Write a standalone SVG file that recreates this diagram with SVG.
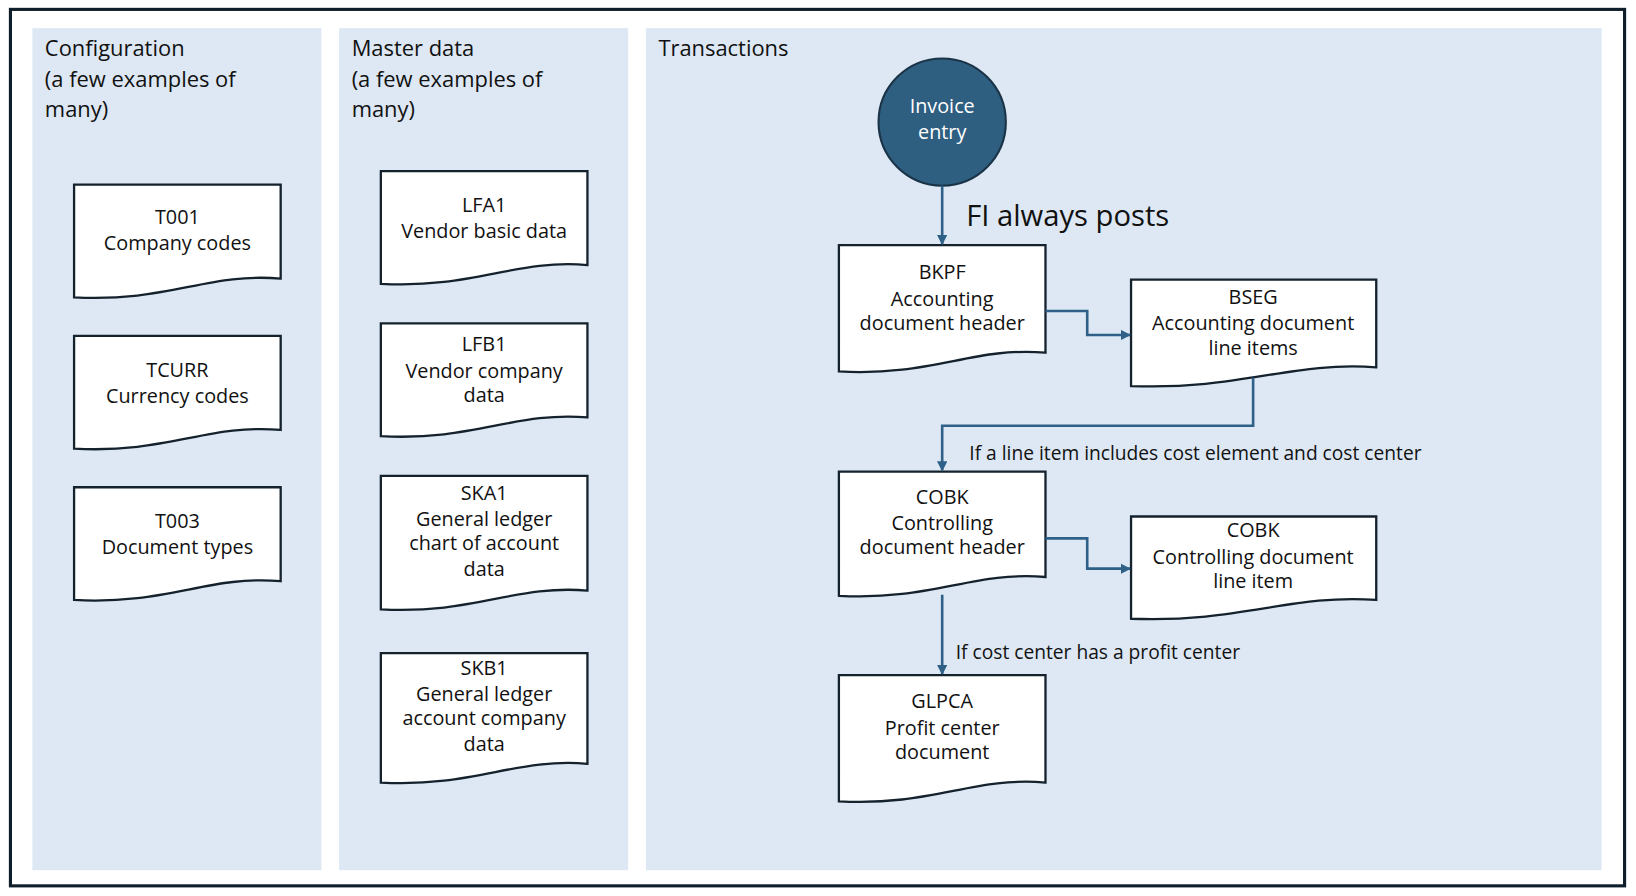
<svg xmlns="http://www.w3.org/2000/svg" width="1636" height="896" viewBox="0 0 1636 896">
<defs>
<style>
.panel{fill:#dde8f4}
.doc{fill:#fff;stroke:#14222d;stroke-width:2.2}
.t{font-family:"Open Sans","Noto Sans",sans-serif;font-size:19px;fill:#111;text-anchor:middle}
.h{font-family:"Open Sans","Noto Sans",sans-serif;font-size:21px;fill:#111}
.lbl{font-family:"Open Sans","Noto Sans",sans-serif;font-size:18.4px;fill:#111}
.c{fill:none;stroke:#2e6088;stroke-width:2.5}
</style>
<marker id="ar" viewBox="0 0 10 10" refX="9" refY="5" markerWidth="4" markerHeight="4" orient="auto-start-reverse"><path d="M0,0L10,5L0,10z" fill="#2e6088"/></marker>
</defs>
<rect width="1636" height="896" fill="#fff"/>
<g transform="scale(1.0434)">
<rect x="10" y="9" width="1547" height="840" fill="none" stroke="#0e1f2b" stroke-width="3"/>
<g id="panel-config"><rect class="panel" x="31" y="27" width="277" height="807"/>
<text class="h" x="43" y="54">Configuration</text><text class="h" x="43" y="83">(a few examples of</text><text class="h" x="43" y="112">many)</text></g>
<g id="panel-master"><rect class="panel" x="325" y="27" width="277" height="807"/>
<text class="h" x="337" y="54">Master data</text><text class="h" x="337" y="83">(a few examples of</text><text class="h" x="337" y="112">many)</text></g>
<g id="panel-trans"><rect class="panel" x="619" y="27" width="916" height="807"/>
<text class="h" x="631" y="54">Transactions</text></g>

<g id="t001"><path class="doc" d="M71,177H269V267C200,261 160,290 71,285Z"/><text class="t" x="170" y="215">T001</text><text class="t" x="170" y="240">Company codes</text></g>
<g id="tcurr"><path class="doc" d="M71,322H269V412C200,406 160,435 71,430Z"/><text class="t" x="170" y="361">TCURR</text><text class="t" x="170" y="386">Currency codes</text></g>
<g id="t003"><path class="doc" d="M71,467H269V557C200,551 160,580 71,575Z"/><text class="t" x="170" y="506">T003</text><text class="t" x="170" y="531">Document types</text></g>

<g id="lfa1"><path class="doc" d="M365,164H563V254C494,248 454,277 365,272Z"/><text class="t" x="464" y="203">LFA1</text><text class="t" x="464" y="228">Vendor basic data</text></g>
<g id="lfb1"><path class="doc" d="M365,310H563V400C494,394 454,423 365,418Z"/><text class="t" x="464" y="336">LFB1</text><text class="t" x="464" y="362">Vendor company</text><text class="t" x="464" y="385">data</text></g>
<g id="ska1"><path class="doc" d="M365,456H563V566C494,560 454,589 365,584Z"/><text class="t" x="464" y="479">SKA1</text><text class="t" x="464" y="504">General ledger</text><text class="t" x="464" y="527">chart of account</text><text class="t" x="464" y="552">data</text></g>
<g id="skb1"><path class="doc" d="M365,626H563V732C494,726 454,755 365,750Z"/><text class="t" x="464" y="647">SKB1</text><text class="t" x="464" y="672">General ledger</text><text class="t" x="464" y="695">account company</text><text class="t" x="464" y="720">data</text></g>

<g id="invoice"><circle cx="903" cy="117" r="61" fill="#2e5e80" stroke="#1b3346" stroke-width="2"/><text class="t" x="903" y="108" style="fill:#fff">Invoice</text><text class="t" x="903" y="133" style="fill:#fff">entry</text></g>
<g id="bkpf"><path class="doc" d="M804,235H1002V338C933,332 893,361 804,356Z"/><text class="t" x="903" y="267">BKPF</text><text class="t" x="903" y="293">Accounting</text><text class="t" x="903" y="316">document header</text></g>
<g id="bseg"><path class="doc" d="M1084,268H1319V352C1237,346 1190,374 1084,370Z"/><text class="t" x="1201" y="291">BSEG</text><text class="t" x="1201" y="316">Accounting document</text><text class="t" x="1201" y="340">line items</text></g>
<g id="cobk"><path class="doc" d="M804,452H1002V553C933,547 893,576 804,571Z"/><text class="t" x="903" y="483">COBK</text><text class="t" x="903" y="508">Controlling</text><text class="t" x="903" y="531">document header</text></g>
<g id="cobk-line"><path class="doc" d="M1084,495H1319V575C1237,569 1190,597 1084,593Z"/><text class="t" x="1201" y="515">COBK</text><text class="t" x="1201" y="541">Controlling document</text><text class="t" x="1201" y="564">line item</text></g>
<g id="glpca"><path class="doc" d="M804,647H1002V750C933,744 893,773 804,768Z"/><text class="t" x="903" y="679">GLPCA</text><text class="t" x="903" y="704">Profit center</text><text class="t" x="903" y="727">document</text></g>

<g id="connectors">
<path class="c" d="M903,178V234" marker-end="url(#ar)"/>
<path class="c" d="M1002,298H1042V321H1083" marker-end="url(#ar)"/>
<path class="c" d="M1201,362V408H903V451" marker-end="url(#ar)"/>
<path class="c" d="M1002,516H1042V545H1083" marker-end="url(#ar)"/>
<path class="c" d="M903,570V646" marker-end="url(#ar)"/>
<text x="926" y="217" style="font-family:'Open Sans','Noto Sans',sans-serif;font-size:28px;fill:#111">FI always posts</text>
<text class="lbl" x="929" y="441">If a line item includes cost element and cost center</text>
<text class="lbl" x="916" y="632">If cost center has a profit center</text>
</g>
</g>
</svg>
